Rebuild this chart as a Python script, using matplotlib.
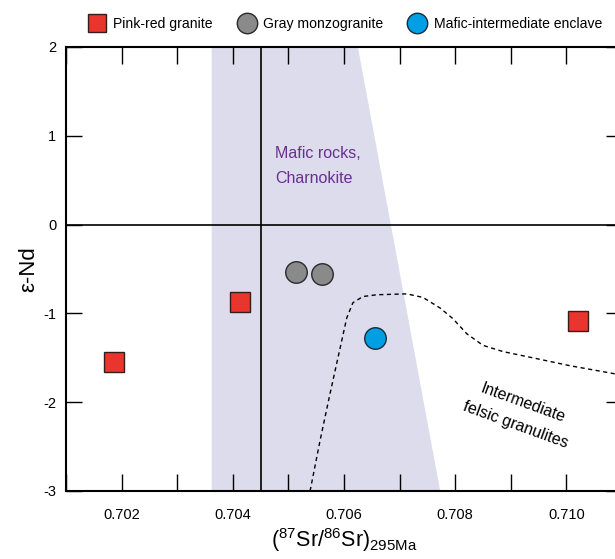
import matplotlib
matplotlib.use("Agg")
import matplotlib.pyplot as plt
import numpy as np

plt.rcParams['font.family'] = ['Liberation Sans', 'DejaVu Sans']
plt.rcParams['mathtext.fontset'] = 'custom'
plt.rcParams['mathtext.rm'] = 'Liberation Sans'
plt.rcParams['mathtext.it'] = 'Liberation Sans:italic'

# sample data
pink_sr = [0.70186, 0.70413, 0.71021]
pink_nd = [-1.55, -0.87, -1.09]
gray_sr = [0.70514, 0.70561]
gray_nd = [-0.53, -0.56]
enclave_sr = [0.70656]
enclave_nd = [-1.28]

# mafic rocks field (shaded polygon)
field_sr = [0.70362, 0.70625, 0.70773, 0.70362]
field_nd = [2.0, 2.0, -3.0, -3.0]

# granulite boundary (dashed)
gran_sr = [0.70539, 0.70557, 0.70575, 0.70593, 0.70605, 0.70616, 0.70634,
           0.70659, 0.70713, 0.70742, 0.70773, 0.70796, 0.70821, 0.70850,
           0.70886, 0.70947, 0.71007, 0.71087]
gran_nd = [-3.0, -2.43, -1.90, -1.39, -1.05, -0.88, -0.81,
           -0.79, -0.78, -0.82, -0.94, -1.06, -1.23, -1.36,
           -1.43, -1.51, -1.59, -1.68]

fig = plt.figure(figsize=(6.15, 5.59), dpi=100)
ax = fig.add_axes([66 / 615, 68 / 559, 556 / 615, 444 / 559])

ax.fill(field_sr, field_nd, color='#dcdcec', lw=0, zorder=0)
ax.axhline(0, color='black', lw=1.2, zorder=1)
ax.axvline(0.7045, color='black', lw=1.2, zorder=1)
ax.plot(gran_sr, gran_nd, color='black', ls=(0, (3, 2.5)), lw=1, zorder=2)

ax.plot(pink_sr, pink_nd, 's', ms=14, mfc='#e8352e', mec='#3a1a1a', mew=1,
        ls='none', zorder=3, label='Pink-red granite')
ax.plot(gray_sr, gray_nd, 'o', ms=15.5, mfc='#8a8a8a', mec='#2a2a2a', mew=1,
        ls='none', zorder=3, label='Gray monzogranite')
ax.plot(enclave_sr, enclave_nd, 'o', ms=15.5, mfc='#009fe3', mec='#1a2a3a', mew=1,
        ls='none', zorder=3, label='Mafic-intermediate enclave')

ax.text(0.70476, 0.66, 'Mafic rocks,\nCharnokite', color='#6b2f8f', fontsize=11.5,
        ha='left', va='center', linespacing=1.9)
ax.text(0.70915, -2.13, 'Intermediate\nfelsic granulites', color='black', fontsize=11.5,
        ha='center', va='center', rotation=-20, linespacing=1.7)

ax.set_xlim(0.701, 0.711)
ax.set_ylim(-3, 2)
ax.set_xticks(np.arange(0.702, 0.7105, 0.002))
ax.set_xticklabels(['0.702', '0.704', '0.706', '0.708', '0.710'])
ax.set_xticks(np.arange(0.701, 0.7115, 0.001), minor=True)
ax.set_yticks([-3, -2, -1, 0, 1, 2])
ax.set_yticklabels(['-3', '-2', '-1', '0', '1', '2'])
ax.tick_params(which='both', direction='in', top=True, right=True, labelsize=10.5,
               width=1)
ax.tick_params(axis='x', which='both', length=12, pad=12)
ax.tick_params(axis='y', which='both', length=11.5, pad=7)
for s in ax.spines.values():
    s.set_linewidth(1.5)

ax.set_ylabel('ε-Nd', fontsize=16, labelpad=3)
ax.set_xlabel(r'$(^{87}\mathrm{Sr}/^{86}\mathrm{Sr})_{295\mathrm{Ma}}$', fontsize=15.5,
              labelpad=3)

fig.legend(loc='upper left', bbox_to_anchor=(70 / 615, 0.993), ncol=3, frameon=False,
           fontsize=10.1, handletextpad=0.2, columnspacing=1.4, markerscale=0.95)

fig.savefig('out.png', dpi=100)
